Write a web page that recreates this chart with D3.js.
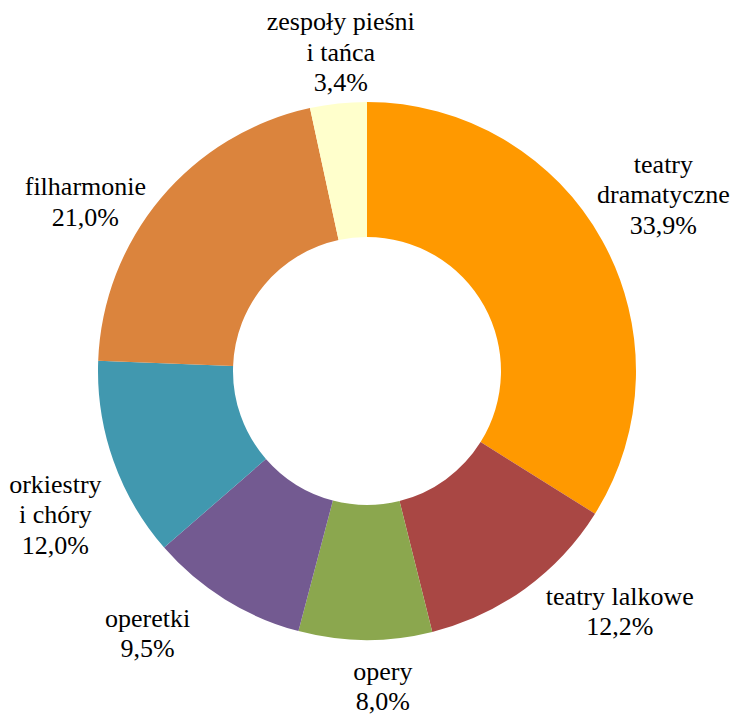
<!DOCTYPE html>
<html>
<head>
<meta charset="utf-8">
<script src="https://cdn.jsdelivr.net/npm/d3@7"></script>
<style>
	body { margin: 0; background: #fff; }
	svg, svg text { font-family: "Liberation Serif", "Times New Roman", Times, serif !important; }
</style>
</head>
<body>
<svg id="chart" width="739" height="715" font-family="Liberation Serif, Times New Roman, serif"></svg>
<script>
// data (percent)
var categories = ['teatry dramatyczne', 'teatry lalkowe', 'opery', 'operetki', 'orkiestry i chóry', 'filharmonie', 'zespoły pieśni i tańca'];
var values = [33.9, 12.2, 8.0, 9.5, 12.0, 21.0, 3.4];
var labelLines = [
	['teatry', 'dramatyczne'],
	['teatry lalkowe'],
	['opery'],
	['operetki'],
	['orkiestry', 'i chóry'],
	['filharmonie'],
	['zespoły pieśni', 'i tańca']
];
var colors = ['#ff9900', '#a94744', '#8ba74e', '#735a91', '#4198af', '#db843d', '#ffffcc'];

// label nudges from the mid-angle position (excel places them by "best fit")
var labelNudge = [[-1, -12], [53, -35], [18, -25], [-40, -27], [9, 30], [-21, 49], [10, 19]];

var svg = d3.select('#chart');
var cx = 367, cy = 371;
var outerR = 269, innerR = 134, labelR = 340;
var lineH = 30.5;

var pie = d3.pie()
	.sort(null)
	.value(d => d);

var arc = d3.arc()
	.innerRadius(innerR)
	.outerRadius(outerR);

var arcs = pie(values);

svg.selectAll('.slice')
	.data(arcs)
	.enter()
	.append('path')
		.classed('slice', true)
		.attr('transform', 'translate(' + cx + ',' + cy + ')')
		.attr('d', arc)
		.attr('fill', (d, i) => colors[i]);

var fmt = v => v.toFixed(1).replace('.', ',') + '%';

// one text per line
var lineData = [];
arcs.forEach((d, i) => {
	var mid = (d.startAngle + d.endAngle) / 2;
	var x = cx + labelR * Math.sin(mid) + labelNudge[i][0];
	var y = cy - labelR * Math.cos(mid) + labelNudge[i][1];
	var lines = labelLines[i].concat([fmt(values[i])]);
	var y0 = y - (lines.length - 1) * lineH / 2 + 9;
	lines.forEach((t, j) => lineData.push({ text: t, x: x, y: y0 + j * lineH }));
});

svg.selectAll('.label')
	.data(lineData)
	.enter()
	.append('text')
		.classed('label', true)
		.attr('x', d => d.x)
		.attr('y', d => d.y)
		.attr('text-anchor', 'middle')
		.attr('font-size', 26)
		.attr('font-family', 'Liberation Serif')
		.style('font-family', '"Liberation Serif", "Times New Roman", serif')
		.text(d => d.text);
</script>
</body>
</html>
